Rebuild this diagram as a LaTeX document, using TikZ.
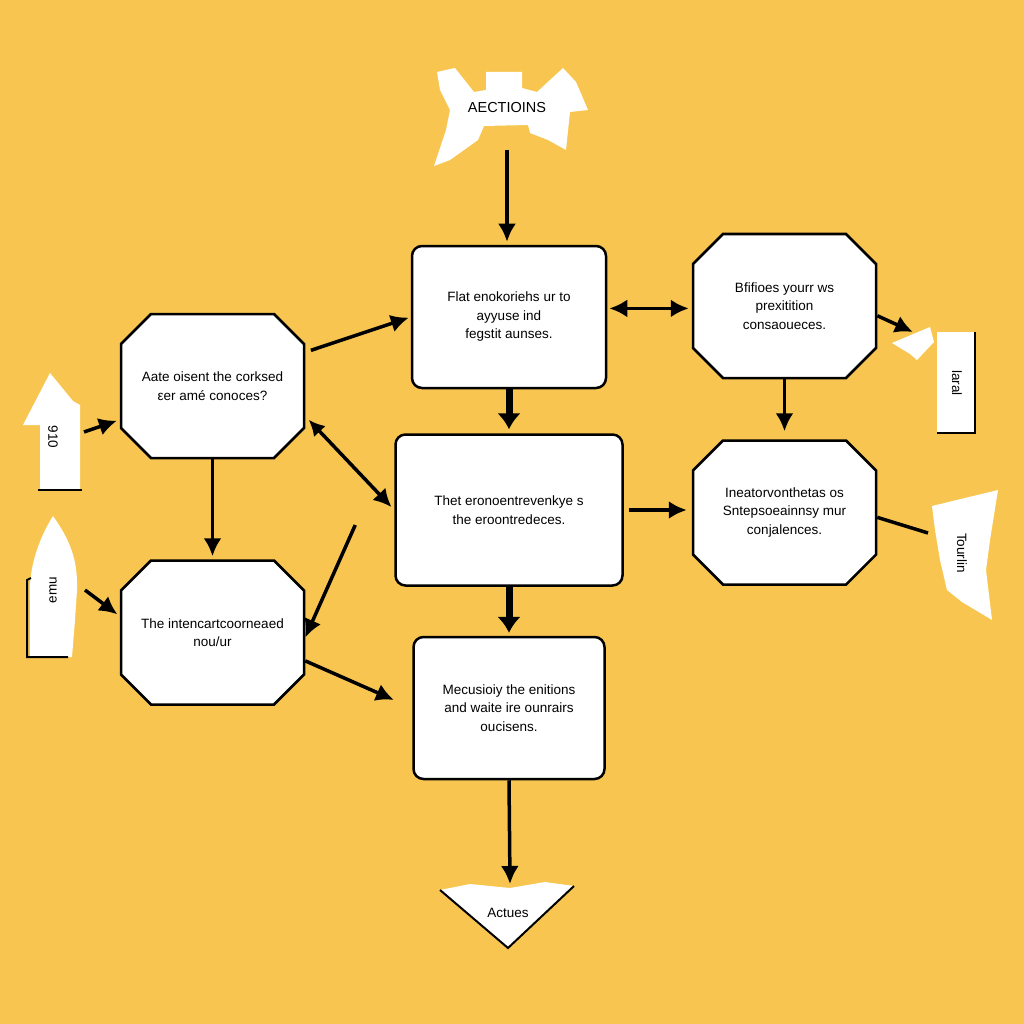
\documentclass[tikz,border=0pt]{standalone}
\usepackage{fontspec}
\setmainfont{Liberation Sans}
\usetikzlibrary{arrows.meta,positioning,calc,shapes.misc}
\definecolor{mustard}{HTML}{F8C650}

\begin{document}
\begin{tikzpicture}[x=1pt,y=-1pt,every node/.style={font=\fontsize{13.5}{18.5}\selectfont,align=center},card/.style={draw,fill=white,line width=2.5pt,rounded corners=10pt,minimum width=#1,minimum height=142pt},card/.default=194pt,octa/.style={draw,fill=white,line width=2.5pt,chamfered rectangle,chamfered rectangle xsep=15pt,chamfered rectangle ysep=15pt,minimum width=183pt,minimum height=144pt},arr/.style={-{Latex[length=18pt,width=18pt]},line width=3.5pt},fat/.style={-{Latex[length=16pt,width=24pt]},line width=7pt},scrap/.style={fill=white}]
\useasboundingbox (0,0) rectangle (1024,1024);
\fill[mustard] (0,0) rectangle (1024,1024);
% torn paper scraps
\fill[scrap] (437,72) -- (455,68) -- (474,92) -- (486,90) -- (486,72) -- (522,72) -- (522,88) -- (537,92) -- (563,68) -- (576,82) -- (588,110) -- (570,112) -- (566,150) -- (548,140) -- (530,133) -- (528,125) -- (484,126) -- (478,140) -- (450,160) -- (434,166) -- (446,130) -- (450,110) -- (440,90) -- cycle;
\fill[scrap] (50,373) -- (73,401) -- (80,405) -- (80,490) -- (40,490) -- (40,425) -- (23,425) -- cycle;
\draw[line width=2pt] (38,490) -- (82,490);
\fill[scrap] (53,516) .. controls (70,540) and (78,560) .. (77,590) -- (75,620) -- (72,657) -- (30,657) -- (30,600) .. controls (28,570) and (38,540) .. (53,516) -- cycle;
\draw[line width=2pt] (31,578) -- (27,580) -- (27,657) -- (68,657);
\fill[scrap] (937,332) rectangle (975,433);
\draw[line width=2pt] (975,332) -- (975,433) -- (937,433);
\fill[scrap] (892,343) -- (930,327) -- (934,342) -- (917,360) -- (910,354) -- cycle;
\fill[scrap] (932,506) -- (998,490) -- (990,540) -- (986,570) -- (992,620) -- (962,602) -- (947,590) -- (940,560) -- (935,530) -- cycle;
\fill[scrap] (440,890) -- (470,884) -- (510,888) -- (545,882) -- (574,886) -- (508,948) -- cycle;
\draw[line width=2pt] (440,890) -- (508,948) -- (574,886);
% labels on the scraps
\node[font=\fontsize{14.5}{18}\selectfont] (actions) at (507,108) {AECTIOINS};
\node[rotate=-90] (left1) at (53,437) {910};
\node[rotate=90] (left2) at (53,590) {emu};
\node[rotate=-90] (right1) at (957,383) {laral};
\node[rotate=-90] (right2) at (962,553) {Tourlin};
\node (actues) at (508,913) {Actues};
\coordinate (actfoot) at (507,150);
\coordinate (left1out) at (84,432);
\coordinate (left2out) at (85,590);
\coordinate (right1in) at (913,332);
\coordinate (right2in) at (928,533);
\coordinate (actuestop) at (510,884);
% the chart
\node[card] (A) at (509,317) {Flat enokoriehs ur to\\ ayyuse ind\\ fegstit aunses.};
\node[card=227pt,minimum height=151pt,below=44pt of A] (D) {Thet eronoentrevenkye s\\ the eroontredeces.};
\node[card=191pt,below=49pt of D] (G) {Mecusioiy the enitions\\ and waite ire ounrairs\\ oucisens.};
\node[octa] (B) at (784.5,306) {Bfifioes yourr ws\\ prexitition\\ consaoueces.};
\node[octa] (E) at (784.5,512.5) {Ineatorvonthetas os\\ Sntepsoeainnsy mur\\ conjalences.};
\node[octa] (C) at (212.5,386) {Aate oisent the corksed\\ εer amé conoces?};
\node[octa,below=100pt of C] (F) {The intencartcoorneaed\\ nou/ur};
\draw[arr,shorten >=3pt] (actfoot) -- (actfoot |- A.north);
\draw[arr,shorten <=6pt,shorten >=2pt] (C.20) -- (A.west);
\draw[{Latex[length=18pt,width=18pt]}-{Latex[length=18pt,width=18pt]},line width=3.5pt,shorten <=2pt,shorten >=3pt] (A.5) -- (A.5 -| B.west);
\draw[fat,shorten >=4pt] (A.south) -- (D.north);
\draw[arr,shorten >=8pt] (B.south) -- (E.north);
\draw[arr] (B.-6) -- (right1in);
\draw[{Latex[length=16pt,width=16pt]}-{Latex[length=18pt,width=18pt]},line width=3.5pt,shorten <=5pt,shorten >=4pt] (C.-18) -- (D.west);
\draw[arr] ($(D.west)+(-39,15)$) -- (F.-3);
\draw[arr,shorten <=5pt,shorten >=5pt] (D.east) -- (D.east -| E.west);
\draw[fat,shorten >=3pt] (D.south) -- (D.south |- G.north);
\draw[arr,shorten >=20pt] (F.-17) -- (G.west);
\draw[arr,shorten >=3pt] (C.south) -- (F.north);
\draw[arr,shorten >=3pt] (left1out) -- (C.200);
\draw[arr,shorten >=3pt] (left2out) -- (F.170);
\draw[line width=3.5pt] (E.-3) -- (right2in);
\draw[arr] (G.south) -- (actuestop);
\end{tikzpicture}
\end{document}
